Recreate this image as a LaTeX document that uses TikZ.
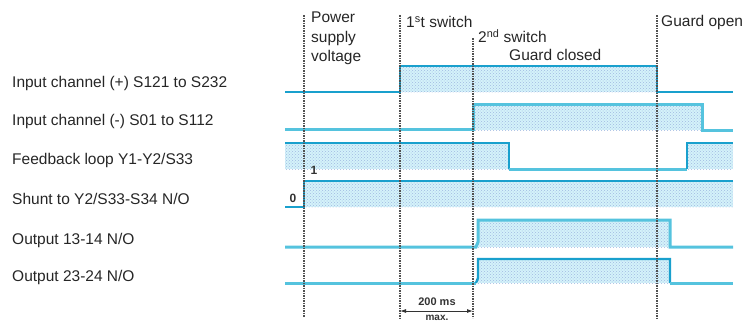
\documentclass[tikz,border=0pt]{standalone}
\usepackage{fontspec}
\setmainfont{Liberation Sans}
\usetikzlibrary{patterns,arrows.meta}
\definecolor{sigline}{RGB}{25,160,205}
\definecolor{sigpale}{RGB}{85,195,222}
\definecolor{sigfill}{RGB}{212,242,250}
\definecolor{dotcol}{RGB}{160,185,225}
\definecolor{vline}{RGB}{80,80,80}
\begin{document}
\begin{tikzpicture}[x=1pt,y=-1pt,
  lbl/.style={font=\fontsize{15.5}{18}\selectfont, inner sep=0pt, anchor=west, text=black!85},
  small/.style={font=\fontsize{11}{11}\selectfont\bfseries, inner sep=0pt, text=black!80},
  sig/.style={draw=sigline, line width=2.4pt, line join=miter},
  pale/.style={draw=sigpale, line width=3pt, line join=miter},
  hatch/.style={fill=sigfill, postaction={pattern=crosshatch dots, pattern color=dotcol}},
  marker/.style={draw=vline, line width=1.3pt, dash pattern=on 1.6pt off 0.9pt}]
\useasboundingbox (0,0) rectangle (753,324);
% fills
\path[hatch] (400,66) rectangle (657,92);
\path[hatch] (473,104) rectangle (702,130);
\path[hatch] (285,143) rectangle (509,169);
\path[hatch] (687,143) rectangle (733,169);
\path[hatch] (304,181) rectangle (733,207);
\path[hatch] (478,220) rectangle (670,247);
\path[hatch] (478,259) rectangle (670,283);
% row 1 input +
\draw[sig] (285,92) -- (400,92) -- (400,66) -- (657,66) -- (657,92) -- (733,92);
% row 2 input -
\draw[pale] (285,129) -- (473,129) -- (473,104) -- (702,104) -- (702,130) -- (733,130);
% row 3 feedback
\draw[sig] (285,143) -- (509,143) -- (509,169);
\draw[pale] (509,169) -- (687,169);
\draw[sig] (687,169) -- (687,143) -- (733,143);
% row 4 shunt
\draw[sig] (285,207) -- (304,207) -- (304,181) -- (733,181);
% row 5 output 13-14
\draw[pale] (285,247) -- (476,247) -- (478,242) -- (478,220) -- (670,220) -- (670,247) -- (733,247);
% row 6 output 23-24
\draw[pale] (285,283) -- (476,283);
\draw[sig] (476,283) -- (478,278) -- (478,259) -- (670,259) -- (670,283);
\draw[pale] (670,283) -- (733,283);
% vertical markers
\coordinate (p1) at (304,15); \coordinate (p1b) at (304,317);
\coordinate (s1) at (400,15); \coordinate (s1b) at (400,318);
\coordinate (s2) at (473,38); \coordinate (s2b) at (473,318);
\coordinate (go) at (657,15); \coordinate (gob) at (657,318);
\draw[marker] (p1) -- (p1b);
\draw[marker] (s1) -- (s1b);
\draw[marker] (s2) -- (s2b);
\draw[marker] (go) -- (gob);
% dimension
\coordinate (d1) at (400,311); \coordinate (d2) at (473,311);
\draw[black!80, line width=0.9pt, {Latex[length=6pt,width=4pt]}-{Latex[length=6pt,width=4pt]}] (d1) -- (d2);
\node[small] (ms) at (437,302) {200 ms};
\node[small, font=\fontsize{10}{10}\selectfont\bfseries] (mx) at (437,318) {max.};
% state labels
\node[small, font=\fontsize{12}{12}\selectfont\bfseries] (zero) at (293,198) {0};
\node[small, font=\fontsize{12}{12}\selectfont\bfseries] (one) at (314,170) {1};
% top labels
\node[lbl, anchor=north west, align=left, font=\fontsize{15.5}{19.5}\selectfont] (psv) at (311,12) {Power\\supply\\voltage};
\node[lbl] (sw1) at (406,22) {1\textsuperscript{s}t switch};
\node[lbl] (sw2) at (478,36) {2\textsuperscript{nd} switch};
\node[lbl] (gc) at (509,55) {Guard closed};
\node[lbl] (gop) at (661,22) {Guard open};
% row labels
\node[lbl] (r1) at (12,83) {Input channel (+) S121 to S232};
\node[lbl] (r2) at (12,121) {Input channel (-) S01 to S112};
\node[lbl] (r3) at (12,160) {Feedback loop Y1-Y2/S33};
\node[lbl] (r4) at (12,199) {Shunt to Y2/S33-S34 N/O};
\node[lbl] (r5) at (12,240) {Output 13-14 N/O};
\node[lbl] (r6) at (12,277) {Output 23-24 N/O};
\end{tikzpicture}
\end{document}
